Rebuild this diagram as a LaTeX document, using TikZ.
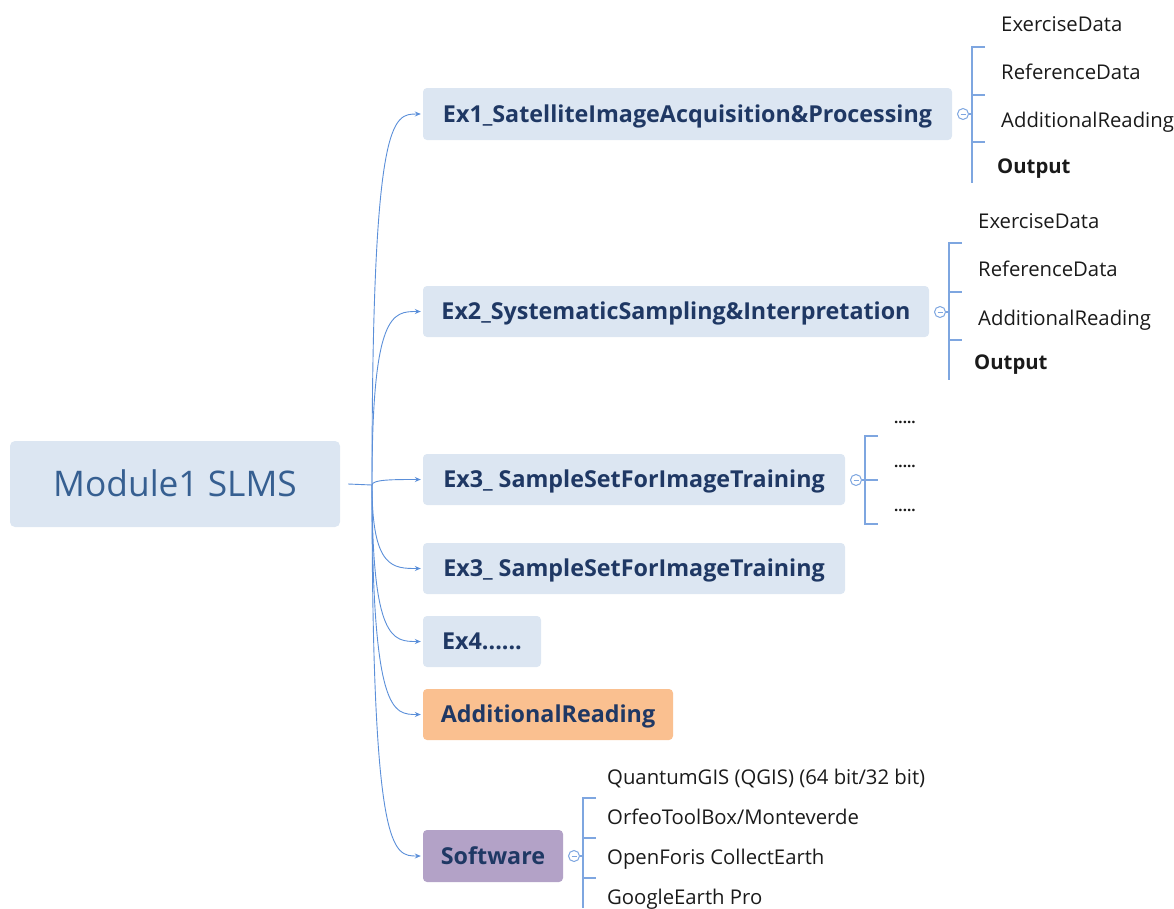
\documentclass[tikz,border=0pt]{standalone}
\usepackage{fontspec}
\setmainfont{Open Sans}
\usetikzlibrary{arrows.meta}
\definecolor{boxblue}{HTML}{DCE6F2}
\definecolor{orangefill}{HTML}{FAC090}
\definecolor{purplefill}{HTML}{B3A2C7}
\definecolor{navy}{HTML}{1F3864}
\definecolor{rootblue}{HTML}{365F91}
\definecolor{connc}{HTML}{5B8FD9}
\definecolor{brk}{HTML}{7EA6E0}
\definecolor{childtext}{HTML}{1A1A1A}
\begin{document}
\begin{tikzpicture}[x=1pt,y=-1pt,
  box/.style={rounded corners=4pt, fill=boxblue, inner sep=0pt, text=navy,
    text height=16.6pt, text depth=0pt,
    font=\bfseries\fontsize{23.3}{26}\selectfont},
  rootbox/.style={rounded corners=5pt, fill=boxblue, inner sep=0pt, text=rootblue,
    text height=25.2pt, text depth=0pt,
    font=\fontsize{35.3}{40}\selectfont},
  child/.style={anchor=west, inner sep=0pt, text=childtext, text height=14.5pt, text depth=0pt,
    font=\fontsize{20.3}{23}\selectfont},
  childb/.style={child, font=\bfseries\fontsize{20.3}{23}\selectfont},
  dots/.style={child, font=\bfseries\fontsize{15}{18}\selectfont},
  conn/.style={draw=connc, line width=0.9pt},
  connarrow/.style={conn, -{Stealth[length=6pt,width=5pt]}},
  brkline/.style={draw=brk, line width=1.1pt},
  collapse/.style={circle, draw=brk, line width=1pt, fill=white, minimum size=11pt, inner sep=0pt},
]
\useasboundingbox (0,0) rectangle (1174,908);

% main nodes
\node[rootbox, minimum width=330pt, minimum height=86pt] (root) at (175,484) {Module1 SLMS};
\node[box, minimum width=529pt, minimum height=52pt] (ex1) at (687.5,114) {Ex1\_SatelliteImageAcquisition\&Processing};
\node[box, minimum width=506pt, minimum height=51pt] (ex2) at (676,311.5) {Ex2\_SystematicSampling\&Interpretation};
\node[box, minimum width=422pt, minimum height=51pt] (ex3a) at (634,479.5) {Ex3\_ SampleSetForImageTraining};
\node[box, minimum width=422pt, minimum height=51pt] (ex3b) at (634,568.5) {Ex3\_ SampleSetForImageTraining};
\node[box, minimum width=118pt, minimum height=51pt] (ex4) at (482,641.5) {Ex4......};
\node[box, fill=orangefill, minimum width=250pt, minimum height=51pt] (addr) at (548,714.5) {AdditionalReading};
\node[box, fill=purplefill, minimum width=140pt, minimum height=52pt] (soft) at (493,856) {Software};

% connectors from root
\coordinate (hub) at (372,485);
\draw[conn] ([xshift=8pt]root.east) -- (hub);
\foreach \n in {ex1,ex2,ex3a,ex3b,ex4,addr,soft}{
  \draw[connarrow] (hub) .. controls (hub |- \n.west) and ([xshift=-30pt]\n.west) .. ([xshift=-2pt]\n.west);
}

% Ex1 sub-branch
\node[collapse] (c1) at (963,114) {};
\draw[brk, line width=0.9pt] ([xshift=-2.5pt]c1.center) -- ([xshift=2.5pt]c1.center);
\draw[brkline] (c1.east) -- (972,114);
\draw[brkline] (985,47) -- (972,47) -- (972,183);
\draw[brkline] (972,95) -- (985,95);
\draw[brkline] (972,142) -- (985,142);
\node[child] (e1a) at (1001,24) {ExerciseData};
\node[child] (e1b) at (1001,72) {ReferenceData};
\node[child] (e1c) at (1001,120) {AdditionalReading};
\node[childb] (e1d) at (997,166) {Output};

% Ex2 sub-branch
\node[collapse] (c2) at (940,312) {};
\draw[brk, line width=0.9pt] ([xshift=-2.5pt]c2.center) -- ([xshift=2.5pt]c2.center);
\draw[brkline] (c2.east) -- (949,312);
\draw[brkline] (962,243) -- (949,243) -- (949,380);
\draw[brkline] (949,292) -- (962,292);
\draw[brkline] (949,340) -- (962,340);
\node[child] (e2a) at (978,221) {ExerciseData};
\node[child] (e2b) at (978,269) {ReferenceData};
\node[child] (e2c) at (978,318) {AdditionalReading};
\node[childb] (e2d) at (974,362) {Output};

% Ex3 sub-branch
\node[collapse] (c3) at (856,480) {};
\draw[brk, line width=0.9pt] ([xshift=-2.5pt]c3.center) -- ([xshift=2.5pt]c3.center);
\draw[brkline] (c3.east) -- (878,480);
\draw[brkline] (878,436) -- (865,436) -- (865,524) -- (878,524);
\node[dots] (d1) at (894,416.5) {.....};
\node[dots] (d2) at (894,460.5) {.....};
\node[dots] (d3) at (894,504.5) {.....};

% Software sub-branch
\node[collapse] (c4) at (574,856) {};
\draw[brk, line width=0.9pt] ([xshift=-2.5pt]c4.center) -- ([xshift=2.5pt]c4.center);
\draw[brkline] (c4.east) -- (583,856);
\draw[brkline] (596,798) -- (583,798) -- (583,908);
\draw[brkline] (583,838) -- (596,838);
\draw[brkline] (583,878) -- (596,878);
\node[child] (s1) at (607,777) {QuantumGIS (QGIS) (64 bit/32 bit)};
\node[child] (s2) at (607,817) {OrfeoToolBox/Monteverde};
\node[child] (s3) at (607,857) {OpenForis CollectEarth};
\node[child] (s4) at (607,897) {GoogleEarth Pro};
\end{tikzpicture}
\end{document}
